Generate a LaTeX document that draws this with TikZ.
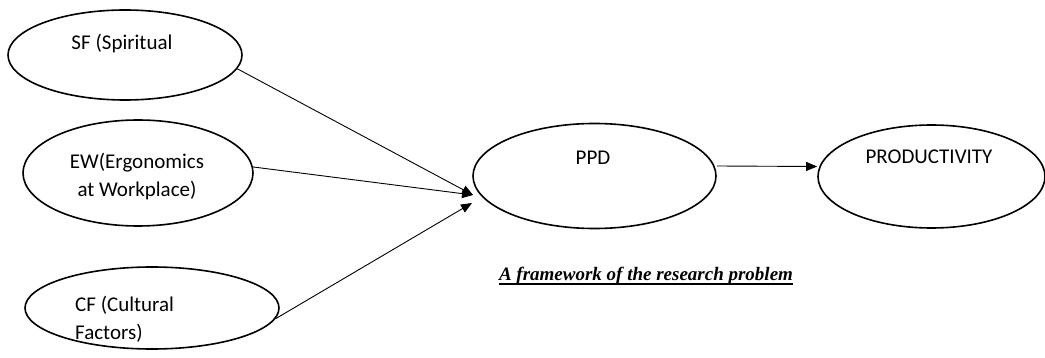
\documentclass[tikz,border=0pt]{standalone}
\usepackage{fontspec}
\setmainfont{Carlito}
\newfontfamily\capfont{Liberation Serif}
\usetikzlibrary{shapes.geometric,arrows.meta}
\newcommand{\strokewidth}{1.6pt}
\newcommand{\arrowwidth}{0.9pt}
\newcommand{\thickul}[1]{\leavevmode\setbox0=\hbox{#1}\rlap{\copy0}\rule[-4pt]{\wd0}{1.8pt}}
\tikzset{
  blob/.style={ellipse, draw, line width=\strokewidth, inner sep=0pt},
  lbl/.style={font=\fontsize{21}{28}\selectfont, inner sep=0pt},
  arr/.style={line width=\arrowwidth, -{Triangle[length=11pt,width=9pt]}},
}

\begin{document}
\begin{tikzpicture}[x=1pt,y=-1pt]
\useasboundingbox (0,0) rectangle (1045,358);
% factor ellipses
\node[blob, minimum width=234pt, minimum height=90pt] (sf) at (125,55) {};
\node[blob, minimum width=230pt, minimum height=106pt] (ew) at (138,173) {};
\node[blob, minimum width=254pt, minimum height=82pt] (cf) at (152,308) {};
\node[blob, minimum width=243pt, minimum height=105pt] (ppd) at (594.5,176) {};
\node[blob, minimum width=227pt, minimum height=103pt] (prod) at (931.5,176.5) {};
% texts
\node[lbl] (sftext) at (122,44) {SF (Spiritual};
\node[lbl, align=center] (ewtext) at (137,177) {EW(Ergonomics\\at Workplace)};
\node[lbl, align=left, anchor=west] (cftext) at (75,319) {CF (Cultural\\Factors)};
\node[lbl] (ppdtext) at (593,158) {PPD};
\node[lbl] (prodtext) at (929,157) {PRODUCTIVITY};
\node[font=\capfont\fontsize{19}{22}\selectfont\bfseries\itshape, inner sep=0pt] (caption) at (646,276) {\thickul{A framework of the research problem}};
% arrows
\coordinate (in1) at (473,195);
\coordinate (in2) at (472,203);
\draw[arr] (sf.-7) -- (in1);
\draw[arr] (ew.3) -- (in1);
\draw[arr] (cf.-5) -- (in2);
\draw[arr] ([yshift=10pt]ppd.east) -- ([yshift=10pt]prod.west);
\end{tikzpicture}
\end{document}
